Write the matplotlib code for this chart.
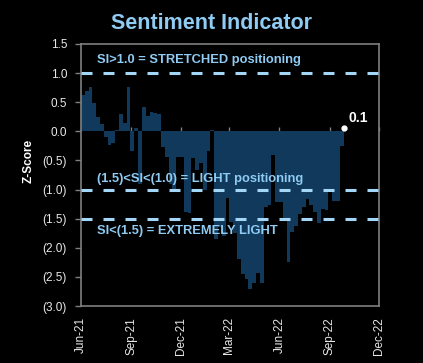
"""Sentiment Indicator: weekly Z-Score bars with positioning bands."""

import matplotlib

matplotlib.use("Agg")
import matplotlib.pyplot as plt
import matplotlib.dates as mdates
import numpy as np
import pandas as pd

# Weekly Z-Score readings, starting the week of 1 Jun 2021
start_date = "2021-06-01"
z_scores = [
    0.62, 0.70, 0.76, 0.48, 0.25, 0.12, -0.10, -0.24, -0.20, 0.02,
    0.30, 0.15, 0.76, -0.33, 0.05, -0.90, 0.42, 0.27, 0.33, 0.31,
    0.30, -0.27, -0.44, -0.90, -1.05, -0.45, -0.45, -1.38, -1.40, -0.46,
    -0.67, -0.55, -1.00, -0.33, 0.03, -1.85, -1.65, -1.80, -1.15, -1.55,
    -1.75, -2.19, -2.45, -2.53, -2.70, -2.60, -2.44, -2.60, -1.30, -1.27,
    -0.41, -1.21, -1.21, -1.50, -2.24, -1.73, -1.62, -1.42, -1.30, -1.16,
    -1.27, -1.39, -1.58, -1.33, -1.36, -1.04, -1.19, -1.20, -0.25,
]
last_value = 0.05
last_label = "0.1"

# Threshold bands and their captions
thresholds = [1.0, -1.0, -1.5]
band_labels = [
    (1.22, "SI>1.0 = STRETCHED positioning"),
    (-0.82, "(1.5)<SI<(1.0) = LIGHT positioning"),
    (-1.72, "SI<(1.5) = EXTREMELY LIGHT"),
]

x_ticks = pd.date_range("2021-06-01", "2022-12-01", freq="3MS")
y_ticks = np.arange(-3.0, 1.51, 0.5)

BG = "black"
BAR = "#11395C"
LIGHT_BLUE = "#8FCBF3"
DASH_BLUE = "#A3D6F7"
GRID_GREY = "#7F7F7F"
TICK_TXT = "#E8E8E8"

plt.rcParams["font.family"] = ["Liberation Sans", "DejaVu Sans"]

dates = pd.date_range(start_date, periods=len(z_scores), freq="7D")

fig = plt.figure(figsize=(4.23, 3.63), dpi=100, facecolor=BG)
ax = fig.add_axes([0.1915, 0.157, 0.7045, 0.722], facecolor=BG)

ax.bar(dates, z_scores, width=7, align="edge", color=BAR, linewidth=0, zorder=2)

# ultimo dato con su marcador blanco
last_date = dates[-1] + pd.Timedelta(days=7)
ax.plot([last_date], [last_value], "o", color="white", markersize=3.5, zorder=4)
ax.text(last_date + pd.Timedelta(days=8), last_value + 0.06, last_label,
        color="white", fontsize=10, fontweight="bold", va="bottom", ha="left")

for t in thresholds:
    ax.axhline(t, color=DASH_BLUE, linewidth=2.2, linestyle=(0, (3.6, 3.6)),
               dash_capstyle="butt", zorder=3)

for y, txt in band_labels:
    ax.text(0.053, y, txt, transform=ax.get_yaxis_transform(), color=LIGHT_BLUE,
            fontsize=9.3, fontweight="bold", va="center", ha="left", zorder=5)

ax.set_xlim(pd.Timestamp("2021-06-01"), pd.Timestamp("2022-12-01"))
ax.set_ylim(-3.0, 1.5)

ax.set_xticks(x_ticks)
ax.xaxis.set_major_formatter(mdates.DateFormatter("%b-%y"))
ax.tick_params(axis="x", length=0, pad=8, labelrotation=90, labelsize=8.5,
               labelcolor=TICK_TXT)

ax.set_yticks(y_ticks)
ax.set_yticklabels([f"{v:.1f}" if v >= 0 else f"({-v:.1f})" for v in y_ticks])
ax.tick_params(axis="y", length=4, width=1, color=GRID_GREY, pad=6,
               labelsize=8.5, labelcolor=TICK_TXT)

# eje horizontal en cero con marcas trimestrales
zero_axis = ax.secondary_xaxis(3.0 / 4.5)
zero_axis.set_xticks(x_ticks)
zero_axis.tick_params(axis="x", direction="out", length=3, width=1,
                      color=GRID_GREY, labelbottom=False, labeltop=False)
zero_axis.spines["bottom"].set_color(GRID_GREY)
zero_axis.spines["bottom"].set_linewidth(1)

for side in ["left", "right", "top", "bottom"]:
    ax.spines[side].set_color(GRID_GREY)
    ax.spines[side].set_linewidth(1.2)

ax.set_ylabel("Z-Score", color="white", fontsize=8.5, fontweight="bold")
ax.yaxis.set_label_coords(-0.154, 0.553)

fig.text(0.5, 0.935, "Sentiment Indicator", color=LIGHT_BLUE, fontsize=15.5,
         fontweight="bold", ha="center", va="center",
         family=["Liberation Sans Narrow", "Liberation Sans", "DejaVu Sans"])

fig.savefig("out.png", dpi=100, facecolor=BG)
plt.close("all")
